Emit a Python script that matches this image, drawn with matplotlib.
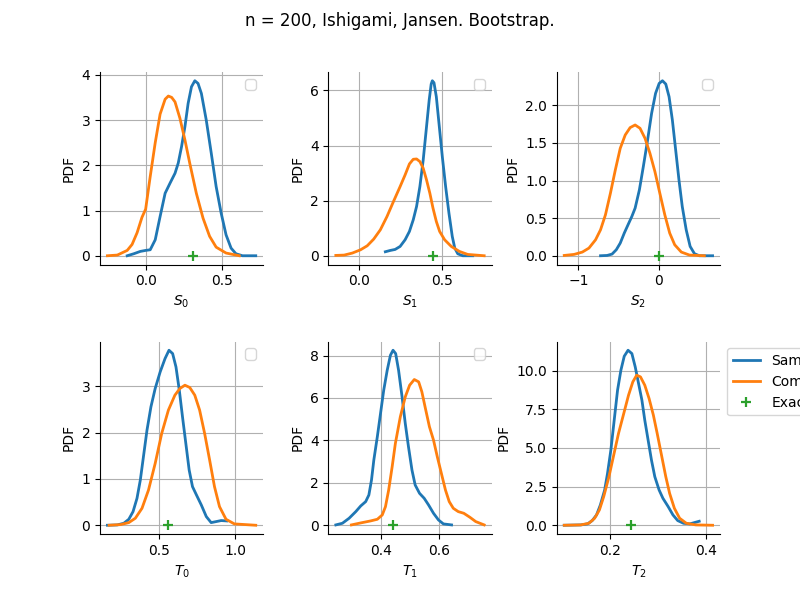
import matplotlib
matplotlib.use("Agg")
import matplotlib.pyplot as plt

title = "n = 200, Ishigami, Jansen. Bootstrap."
xlabels = ["$S_0$", "$S_1$", "$S_2$", "$T_0$", "$T_1$", "$T_2$"]
exact = [0.3139, 0.4424, 0.0, 0.5576, 0.4424, 0.2437]
labels = ["Sample", "Computed", "Exact"]

# Sample (bootstrap) and computed density curves
s0_x = [-0.121, -0.078, -0.035, 0.0, 0.030, 0.063, 0.095, 0.128, 0.160, 0.193, 0.214, 0.236, 0.258, 0.279, 0.301, 0.323, 0.344, 0.366, 0.398, 0.431, 0.463, 0.496, 0.528, 0.561, 0.593, 0.636, 0.723]
s0_y = [0.0, 0.044, 0.096, 0.118, 0.132, 0.353, 0.868, 1.382, 1.603, 1.824, 2.047, 2.415, 2.853, 3.368, 3.735, 3.868, 3.809, 3.588, 3.0, 2.265, 1.529, 0.941, 0.463, 0.169, 0.044, 0.0, 0.0]
c0_x = [-0.251, -0.186, -0.121, -0.089, -0.056, -0.024, 0.0, 0.030, 0.063, 0.095, 0.128, 0.149, 0.171, 0.193, 0.225, 0.258, 0.290, 0.333, 0.377, 0.420, 0.463, 0.528, 0.615]
c0_y = [0.0, 0.015, 0.118, 0.25, 0.51, 0.85, 1.03, 1.75, 2.5, 3.13, 3.46, 3.53, 3.50, 3.40, 3.04, 2.56, 2.04, 1.38, 0.83, 0.43, 0.19, 0.06, 0.0]

s1_x = [0.157, 0.187, 0.216, 0.246, 0.276, 0.302, 0.325, 0.345, 0.365, 0.385, 0.405, 0.421, 0.433, 0.440, 0.450, 0.464, 0.480, 0.500, 0.520, 0.540, 0.560, 0.575, 0.593, 0.623, 0.683]
s1_y = [0.145, 0.193, 0.229, 0.338, 0.580, 0.882, 1.304, 1.787, 2.512, 3.478, 4.686, 5.652, 6.232, 6.353, 6.280, 5.773, 4.807, 3.599, 2.512, 1.546, 0.700, 0.278, 0.072, 0.0, 0.0]
c1_x = [-0.141, -0.091, -0.042, 0.008, 0.048, 0.087, 0.127, 0.167, 0.206, 0.246, 0.276, 0.302, 0.325, 0.345, 0.365, 0.385, 0.405, 0.425, 0.444, 0.464, 0.484, 0.514, 0.554, 0.603, 0.653, 0.752]
c1_y = [0.012, 0.024, 0.097, 0.217, 0.362, 0.604, 0.942, 1.425, 1.969, 2.512, 2.935, 3.333, 3.502, 3.514, 3.418, 3.176, 2.754, 2.271, 1.727, 1.244, 0.882, 0.580, 0.338, 0.157, 0.048, 0.0]

s2_x = [-0.725, -0.643, -0.582, -0.529, -0.480, -0.430, -0.389, -0.336, -0.295, -0.242, -0.193, -0.143, -0.090, -0.041, 0.004, 0.045, 0.086, 0.127, 0.168, 0.209, 0.250, 0.291, 0.340, 0.389, 0.443, 0.504, 0.668]
s2_y = [0.0, 0.004, 0.022, 0.080, 0.168, 0.301, 0.398, 0.522, 0.633, 0.876, 1.186, 1.518, 1.894, 2.159, 2.292, 2.327, 2.283, 2.115, 1.805, 1.407, 1.009, 0.655, 0.345, 0.124, 0.027, 0.0, 0.0]
c2_x = [-1.176, -1.053, -0.951, -0.869, -0.787, -0.725, -0.664, -0.602, -0.541, -0.480, -0.418, -0.357, -0.295, -0.234, -0.172, -0.111, -0.049, 0.012, 0.074, 0.135, 0.197, 0.279, 0.381, 0.566]
c2_y = [0.004, 0.018, 0.049, 0.102, 0.212, 0.345, 0.544, 0.832, 1.142, 1.429, 1.606, 1.704, 1.739, 1.695, 1.562, 1.363, 1.119, 0.832, 0.544, 0.301, 0.146, 0.049, 0.009, 0.0]

t0_x = [0.159, 0.224, 0.267, 0.300, 0.328, 0.354, 0.376, 0.398, 0.420, 0.446, 0.474, 0.507, 0.539, 0.565, 0.589, 0.611, 0.633, 0.654, 0.676, 0.698, 0.720, 0.746, 0.778, 0.811, 0.843, 0.876, 0.909, 0.946]
t0_y = [0.0, 0.007, 0.043, 0.129, 0.294, 0.581, 0.976, 1.515, 2.053, 2.556, 2.951, 3.310, 3.597, 3.776, 3.704, 3.417, 2.915, 2.341, 1.766, 1.192, 0.833, 0.654, 0.438, 0.187, 0.057, 0.079, 0.101, 0.093]
ct0_x = [0.170, 0.246, 0.300, 0.343, 0.387, 0.430, 0.474, 0.517, 0.561, 0.604, 0.637, 0.670, 0.702, 0.735, 0.767, 0.800, 0.833, 0.865, 0.898, 0.941, 0.996, 1.137]
ct0_y = [0.0, 0.014, 0.057, 0.151, 0.366, 0.761, 1.335, 1.981, 2.484, 2.807, 2.951, 3.022, 2.972, 2.807, 2.484, 1.981, 1.407, 0.833, 0.402, 0.129, 0.029, 0.0]

t1_x = [0.2455, 0.268, 0.291, 0.314, 0.331, 0.348, 0.359, 0.368, 0.376, 0.388, 0.399, 0.410, 0.422, 0.433, 0.442, 0.451, 0.461, 0.473, 0.484, 0.495, 0.507, 0.518, 0.533, 0.549, 0.564, 0.581, 0.598, 0.615, 0.643]
t1_y = [0.016, 0.094, 0.329, 0.643, 0.910, 1.114, 1.427, 2.133, 3.075, 4.173, 5.271, 6.369, 7.310, 8.016, 8.251, 8.094, 7.310, 6.055, 4.800, 3.702, 2.604, 1.898, 1.506, 1.271, 0.957, 0.565, 0.251, 0.063, 0.016]
ct1_x = [0.299, 0.331, 0.365, 0.388, 0.405, 0.416, 0.427, 0.439, 0.450, 0.467, 0.484, 0.499, 0.515, 0.530, 0.541, 0.552, 0.567, 0.581, 0.594, 0.608, 0.622, 0.635, 0.649, 0.666, 0.685, 0.706, 0.726, 0.755]
ct1_y = [0.016, 0.110, 0.204, 0.282, 0.486, 0.878, 1.663, 2.761, 3.859, 5.114, 6.055, 6.604, 6.871, 6.761, 6.290, 5.584, 4.643, 4.016, 3.231, 2.447, 1.663, 1.114, 0.800, 0.643, 0.565, 0.376, 0.173, 0.016]

t2_x = [0.1034, 0.138, 0.152, 0.162, 0.171, 0.179, 0.188, 0.194, 0.201, 0.208, 0.215, 0.222, 0.229, 0.237, 0.245, 0.252, 0.259, 0.266, 0.272, 0.279, 0.286, 0.293, 0.302, 0.310, 0.321, 0.331, 0.341, 0.353, 0.366, 0.376, 0.386]
t2_y = [0.0, 0.022, 0.086, 0.301, 0.667, 1.312, 2.280, 3.355, 4.860, 6.796, 8.731, 10.022, 10.925, 11.312, 11.097, 10.237, 9.161, 8.086, 6.796, 5.505, 4.215, 3.140, 2.280, 1.742, 1.204, 0.667, 0.301, 0.129, 0.086, 0.172, 0.258]
ct2_x = [0.1034, 0.138, 0.155, 0.167, 0.177, 0.186, 0.197, 0.207, 0.217, 0.228, 0.238, 0.247, 0.255, 0.263, 0.272, 0.281, 0.290, 0.298, 0.307, 0.316, 0.324, 0.334, 0.345, 0.359, 0.379, 0.414]
ct2_y = [0.0, 0.022, 0.129, 0.452, 0.989, 1.849, 3.140, 4.538, 5.935, 7.226, 8.409, 9.269, 9.699, 9.591, 9.054, 8.194, 7.118, 5.935, 4.538, 3.140, 2.065, 1.097, 0.452, 0.129, 0.022, 0.0]

sample_curves = [(s0_x, s0_y), (s1_x, s1_y), (s2_x, s2_y), (t0_x, t0_y), (t1_x, t1_y), (t2_x, t2_y)]
computed_curves = [(c0_x, c0_y), (c1_x, c1_y), (c2_x, c2_y), (ct0_x, ct0_y), (ct1_x, ct1_y), (ct2_x, ct2_y)]

fig, axes = plt.subplots(2, 3, figsize=(8, 6), dpi=100)
fig.subplots_adjust(wspace=0.4, hspace=0.4)
fig.suptitle(title)

for i, ax in enumerate(axes.flat):
    sx, sy = sample_curves[i]
    cx, cy = computed_curves[i]
    ax.plot(sx, sy, color="C0", lw=2, label=labels[0], solid_joinstyle="round")
    ax.plot(cx, cy, color="C1", lw=2, label=labels[1], solid_joinstyle="round")
    ax.plot([exact[i]], [0.0], "+", color="C2", ms=7, mew=1.6, label=labels[2])
    ax.set_xlabel(xlabels[i])
    ax.set_ylabel("PDF")
    ax.grid(True)
    ax.spines["top"].set_visible(False)
    ax.spines["right"].set_visible(False)
    if i < 5:
        ax.legend(handles=[], loc="upper right")
    else:
        ax.legend(loc="upper left", bbox_to_anchor=(1.0, 1.0))

fig.savefig("out.png", dpi=100)
